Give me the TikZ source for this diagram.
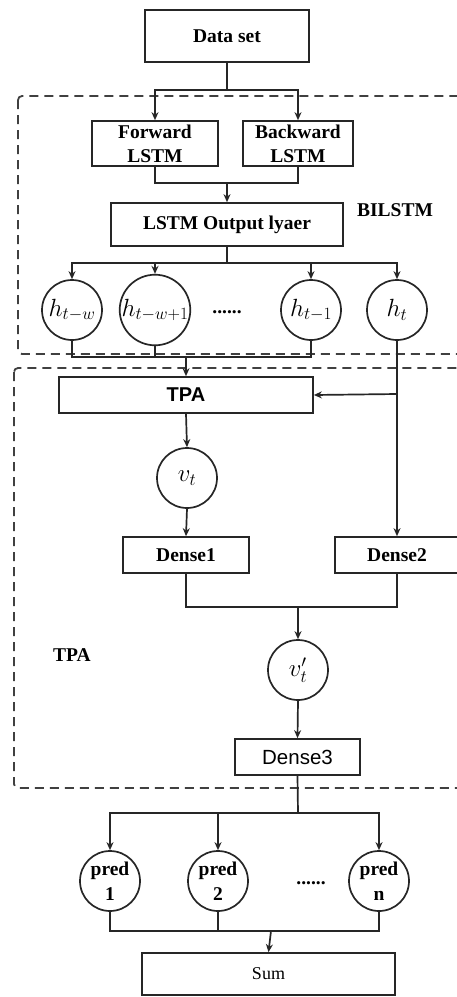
\documentclass[tikz,border=0pt]{standalone}
\usepackage{fontspec}
\setmainfont{Liberation Serif}
\newfontfamily\sansf{Liberation Sans}
\usetikzlibrary{arrows.meta}
\begin{document}
\begin{tikzpicture}[x=1pt,y=-1pt,
  line width=1.7pt, draw=black!85,
  every node/.style={font=\fontsize{19.5}{24}\selectfont\bfseries},
  box/.style={draw, rectangle, inner sep=0pt, align=center},
  circ/.style={draw, circle, minimum size=60pt, inner sep=0pt, font=\fontsize{27}{28}\selectfont},
  predc/.style={draw, circle, minimum size=60pt, inner sep=0pt, align=center, font=\fontsize{19.5}{25}\selectfont\bfseries},
  arr/.style={-{Stealth[length=8pt,width=7pt]}},
  grp/.style={dashed, dash pattern=on 9pt off 6pt, line width=1.8pt, draw=black!75, rounded corners=4pt}
]
\useasboundingbox (0,0) rectangle (457,997);
\clip (0,0) rectangle (457,997);
\fill[white] (0,0) rectangle (457,997);

% group frames
\draw[grp] (18,96) rectangle (480,354);
\draw[grp] (14,368) rectangle (480,788);
\node (lblbi) at (395,210) {BILSTM};
\node (lbltpa) at (72,655) {TPA};

% nodes
\node[box, minimum width=164pt, minimum height=52pt] (data) at (227,36) {Data set};
\node[box, minimum width=126pt, minimum height=45pt] (fwd) at (155,143.5) {Forward\\LSTM};
\node[box, minimum width=110pt, minimum height=45pt] (bwd) at (298,143.5) {Backward\\LSTM};
\node[box, minimum width=232pt, minimum height=43pt] (out) at (227,224.5) {LSTM Output lyaer};

\node[circ] (h1) at (72,310) {$h_{t-w}$};
\node[circ] (h2) at (155,310) {$h_{t-w+1}$};
\node (dots1) at (227,312) {......};
\node[circ] (h3) at (311,310) {$h_{t-1}$};
\node[circ] (h4) at (397,310) {$h_t$};

\node[box, minimum width=254pt, minimum height=36pt, font=\fontsize{20}{24}\selectfont\sansf\bfseries] (tpa) at (186,395) {TPA};
\node[circ] (vt) at (187,478) {$v_t$};
\node[box, minimum width=126pt, minimum height=36pt] (d1) at (186,555) {Dense1};
\node[box, minimum width=124pt, minimum height=36pt] (d2) at (397,555) {Dense2};
\node[circ] (vt2) at (298,670) {$v_t^{\prime}$};
\node[box, minimum width=125pt, minimum height=36pt, font=\fontsize{20.5}{24}\selectfont\sansf] (d3) at (297.5,757) {Dense3};

\node[predc] (p1) at (110,881) {pred\\1};
\node[predc] (p2) at (218,881) {pred\\2};
\node (dots2) at (311,883) {......};
\node[predc] (p3) at (379,881) {pred\\n};
\node[box, minimum width=253pt, minimum height=42pt, font=\fontsize{18}{22}\selectfont] (sum) at (268.5,974) {Sum};

% connectors
\coordinate (j1) at (227,90);
\draw (data.south) -- (j1);
\draw[arr] (j1) -| (fwd.north);
\draw[arr] (j1) -| (bwd.north);

\coordinate (j2) at (227,183);
\draw (fwd.south) |- (j2) -| (bwd.south);
\draw[arr] (j2) -- (out.north);

\coordinate (j3) at (227,263);
\draw (out.south) -- (j3);
\draw[arr] (j3) -| (h1.north);
\draw[arr] (j3) -| (h2.north);
\draw[arr] (j3) -| (h3.north);
\draw[arr] (j3) -| (h4.north);

\coordinate (j4) at (186,357);
\draw (h1.south) |- (j4);
\draw (h2.south) -- (h2.south |- j4);
\draw (h3.south) |- (j4);
\draw[arr] (j4) -- (tpa.north);

\coordinate (j5) at (397,394);
\draw (h4.south) -- (j5);
\draw[arr] (j5) -- (tpa.east);
\draw[arr] (j5) -- (d2.north);

\draw[arr] (tpa.south) -- (vt.north);
\draw[arr] (vt.south) -- (d1.north);

\coordinate (j6) at (298,607);
\draw (d1.south) |- (j6) -| (d2.south);
\draw[arr] (j6) -- (vt2.north);
\draw[arr] (vt2.south) -- (d3.north);

\coordinate (j7) at (298,813);
\draw (d3.south) -- (j7);
\draw[arr] (j7) -| (p1.north);
\draw[arr] (j7) -| (p2.north);
\draw[arr] (j7) -| (p3.north);

\coordinate (j8) at (271,931);
\draw (p1.south) |- (j8);
\draw (p2.south) -- (p2.south |- j8);
\draw (p3.south) |- (j8);
\draw[arr] (j8) -- (sum.north);
\end{tikzpicture}
\end{document}
